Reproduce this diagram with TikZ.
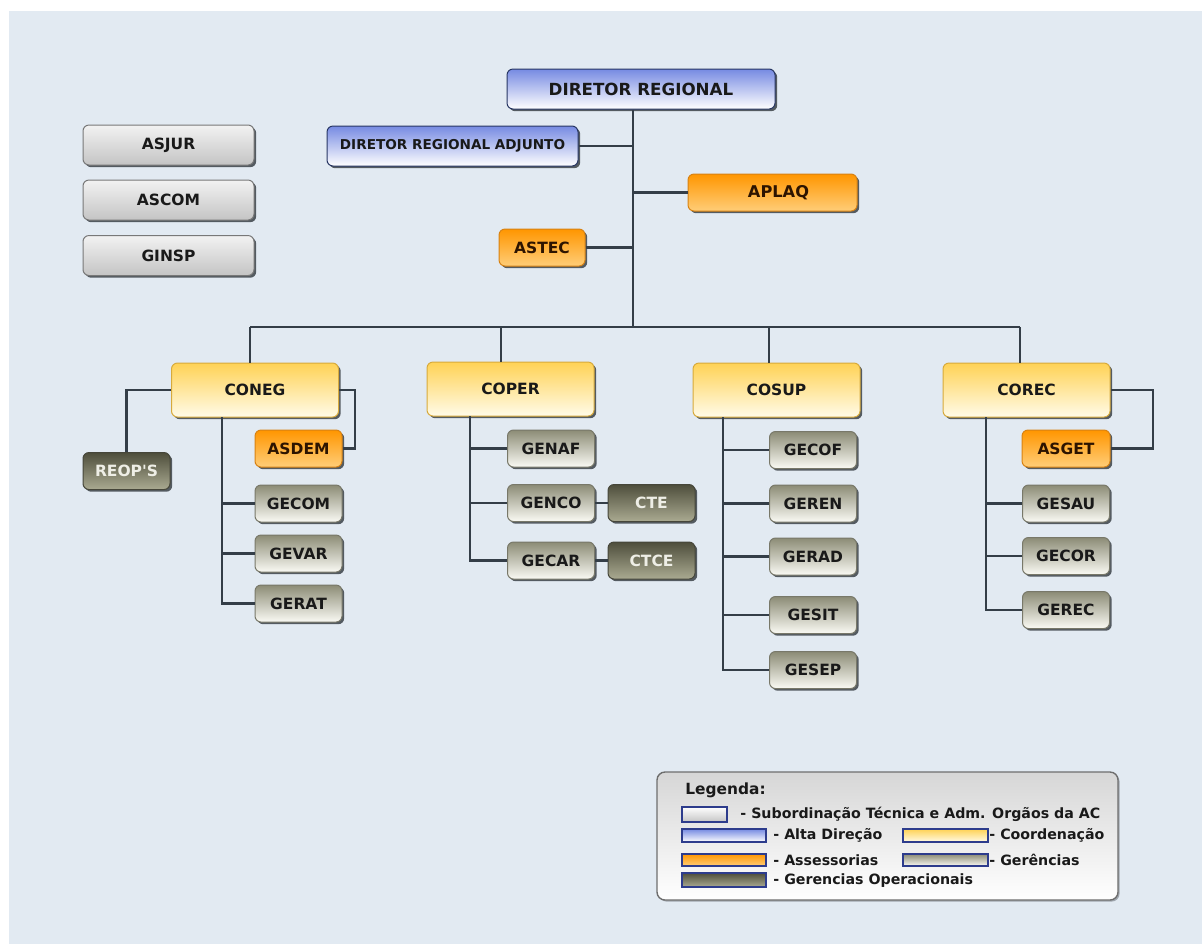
\documentclass[tikz,border=0pt]{standalone}
\usepackage{fontspec}
\setmainfont{DejaVu Sans}
\usetikzlibrary{shadows}
\definecolor{bg}{RGB}{226,234,242}
\definecolor{linec}{RGB}{52,62,72}
\definecolor{txt}{RGB}{25,25,25}
\definecolor{shadowc}{RGB}{60,66,72}
\definecolor{blueTop}{RGB}{118,138,226}
\definecolor{blueBorder}{RGB}{40,55,100}
\definecolor{yelTop}{RGB}{255,210,85}
\definecolor{yelBot}{RGB}{255,251,232}
\definecolor{yelBorder}{RGB}{215,170,60}
\definecolor{orTop}{RGB}{255,150,0}
\definecolor{orBot}{RGB}{255,205,120}
\definecolor{orBorder}{RGB}{215,130,20}
\definecolor{gerTop}{RGB}{140,140,118}
\definecolor{gerBot}{RGB}{250,250,244}
\definecolor{gerBorder}{RGB}{120,120,105}
\definecolor{opTop}{RGB}{78,78,60}
\definecolor{opBot}{RGB}{170,170,145}
\definecolor{opBorder}{RGB}{70,70,58}
\definecolor{grTop}{RGB}{242,242,242}
\definecolor{grBot}{RGB}{196,196,196}
\definecolor{grBorder}{RGB}{120,120,120}
\definecolor{swBorder}{RGB}{45,60,140}
\tikzset{
  box/.style={rounded corners=3pt, inner sep=0pt, text=txt,
    font=\bfseries\fontsize{7.75}{9}\selectfont, line width=0.5pt,
    drop shadow={shadow xshift=1.1pt, shadow yshift=-1.1pt, fill=shadowc, opacity=0.85}},
  bluebox/.style={box, top color=blueTop, bottom color=white, draw=blueBorder},
  yelbox/.style={box, top color=yelTop, bottom color=yelBot, draw=yelBorder, minimum width=83.5pt, minimum height=27pt},
  orbox/.style={box, top color=orTop, bottom color=orBot, draw=orBorder, text={rgb,255:red,45;green,20;blue,0}},
  gerbox/.style={box, top color=gerTop, bottom color=gerBot, draw=gerBorder, minimum width=43.5pt, minimum height=18.5pt},
  opbox/.style={box, top color=opTop, bottom color=opBot, draw=opBorder, text={rgb,255:red,238;green,238;blue,230}, minimum width=43.5pt, minimum height=18.5pt},
  graybox/.style={box, top color=grTop, bottom color=grBot, draw=grBorder, minimum width=85.5pt, minimum height=20pt},
  conn/.style={draw=linec, line width=1.25pt},
  swatch/.style={draw=swBorder, line width=0.6pt, inner sep=0pt},
  legtext/.style={anchor=west, inner sep=0pt, text=txt, font=\bfseries\fontsize{7.1}{8.5}\selectfont},
}
\begin{document}
\begin{tikzpicture}[x=0.5pt,y=-0.5pt]
\useasboundingbox (0,0) rectangle (1202,944);
\fill[white] (0,0) rectangle (1202,944);
\fill[bg] (9,11) rectangle (1202,944);

% top management
\node[bluebox, minimum width=134pt, minimum height=20pt, font=\bfseries\fontsize{8.35}{10}\selectfont] (dr) at (641,89) {DIRETOR REGIONAL};
\node[bluebox, minimum width=125.5pt, minimum height=20pt, font=\bfseries\fontsize{6.8}{8}\selectfont] (dra) at (452.5,146) {DIRETOR REGIONAL ADJUNTO};
\node[orbox, minimum width=84.5pt, minimum height=18.5pt, font=\bfseries\fontsize{8.1}{10}\selectfont] (aplaq) at (772.5,192.5) {\hspace*{6pt}APLAQ};
\node[orbox, minimum width=43pt, minimum height=18.5pt] (astec) at (542,247.5) {ASTEC};

% left gray boxes
\node[graybox] (asjur) at (168.5,145) {ASJUR};
\node[graybox] (ascom) at (168.5,200) {ASCOM};
\node[graybox] (ginsp) at (168.5,255.5) {GINSP};

% coordinations
\node[yelbox] (coneg) at (255,390) {CONEG};
\node[yelbox] (coper) at (510.5,389) {COPER};
\node[yelbox] (cosup) at (776.5,390) {COSUP};
\node[yelbox] (corec) at (1026.5,390) {COREC};

% CONEG group
\node[opbox] (reops) at (126.5,471) {REOP\textquotesingle S};
\node[orbox, minimum width=43.5pt, minimum height=18.5pt] (asdem) at (298.5,448.5) {ASDEM};
\node[gerbox] (gecom) at (298.5,503.5) {GECOM};
\node[gerbox] (gevar) at (298.5,553.5) {GEVAR};
\node[gerbox] (gerat) at (298.5,603.5) {GERAT};

% COPER group
\node[gerbox] (genaf) at (551,448.5) {GENAF};
\node[gerbox] (genco) at (551,503) {GENCO};
\node[gerbox] (gecar) at (551,560.5) {GECAR};
\node[opbox] (cte) at (651.5,503) {CTE};
\node[opbox] (ctce) at (651.5,560.5) {CTCE};

% COSUP group
\node[gerbox] (gecof) at (813,450) {GECOF};
\node[gerbox] (geren) at (813,503.5) {GEREN};
\node[gerbox] (gerad) at (813,556.5) {GERAD};
\node[gerbox] (gesit) at (813,615) {GESIT};
\node[gerbox] (gesep) at (813,670) {GESEP};

% COREC group
\node[orbox, minimum width=44pt, minimum height=18.5pt] (asget) at (1066,448.5) {ASGET};
\node[gerbox] (gesau) at (1066,503.5) {GESAU};
\node[gerbox] (gecor) at (1066,556) {GECOR};
\node[gerbox] (gerec) at (1066,610) {GEREC};

% main trunk
\coordinate (trunk) at (633,327);
\draw[conn] (dr.south -| trunk) -- (trunk);
\draw[conn] (dra.east) -- (dra.east -| trunk);
\draw[conn] (aplaq.west) -- (aplaq.west -| trunk);
\draw[conn] (astec.east) -- (astec.east -| trunk);

% bus
\coordinate (b1) at (250,327);
\coordinate (b2) at (501,327);
\coordinate (b3) at (769,327);
\coordinate (b4) at (1020,327);
\draw[conn] (b1) -- (b4);
\draw[conn] (b1) -- (b1 |- coneg.north);
\draw[conn] (b2) -- (b2 |- coper.north);
\draw[conn] (b3) -- (b3 |- cosup.north);
\draw[conn] (b4) -- (b4 |- corec.north);

% CONEG connectors
\coordinate (t1) at (222,417);
\draw[conn] (t1) |- (gerat.west);
\draw[conn] (t1 |- gecom.west) -- (gecom.west);
\draw[conn] (t1 |- gevar.west) -- (gevar.west);
\draw[conn] (coneg.west) -| (reops.north);
\coordinate (r1) at (355,390);
\draw[conn] (coneg.east) -- (coneg.east -| r1) |- (asdem.east);

% COPER connectors
\coordinate (t2) at (470,416);
\draw[conn] (t2) |- (gecar.west);
\draw[conn] (t2 |- genaf.west) -- (genaf.west);
\draw[conn] (t2 |- genco.west) -- (genco.west);
\draw[conn] (genco.east) -- (cte.west);
\draw[conn] (gecar.east) -- (ctce.west);

% COSUP connectors
\coordinate (t3) at (723,417);
\draw[conn] (t3) |- (gesep.west);
\draw[conn] (t3 |- gecof.west) -- (gecof.west);
\draw[conn] (t3 |- geren.west) -- (geren.west);
\draw[conn] (t3 |- gerad.west) -- (gerad.west);
\draw[conn] (t3 |- gesit.west) -- (gesit.west);

% COREC connectors
\coordinate (t4) at (986,417);
\draw[conn] (t4) |- (gerec.west);
\draw[conn] (t4 |- gesau.west) -- (gesau.west);
\draw[conn] (t4 |- gecor.west) -- (gecor.west);
\coordinate (r4) at (1153,390);
\draw[conn] (corec.east) -- (corec.east -| r4) |- (asget.east);

% legend
\node[rounded corners=4pt, draw={rgb,255:red,110;green,110;blue,110}, line width=0.7pt,
      top color={rgb,255:red,214;green,214;blue,214}, bottom color=white,
      minimum width=230.5pt, minimum height=64pt, inner sep=0pt,
      drop shadow={shadow xshift=0.8pt, shadow yshift=-0.8pt, fill=shadowc, opacity=0.4}] (leg) at (887.5,836) {};
\node[anchor=west, inner sep=0pt, text=txt, font=\bfseries\fontsize{7.7}{9}\selectfont] (legt) at (685,790) {Legenda:};
\node[swatch, top color=white, bottom color=grBot, minimum width=22.5pt, minimum height=7.5pt] (s1) at (704.5,814.5) {};
\node[swatch, top color=blueTop, bottom color=white, minimum width=42pt, minimum height=6.5pt] (s2) at (724,835.5) {};
\node[swatch, top color=orTop, bottom color=orBot, minimum width=42pt, minimum height=6pt] (s3) at (724,860) {};
\node[swatch, top color=opTop, bottom color=opBot, minimum width=42pt, minimum height=7pt] (s4) at (724,880) {};
\node[swatch, top color=yelTop, bottom color=yelBot, minimum width=42.5pt, minimum height=6.5pt] (s5) at (945.5,835.5) {};
\node[swatch, top color=gerTop, bottom color=gerBot, minimum width=42.5pt, minimum height=6pt] (s6) at (945.5,860) {};
\node[legtext] (l1) at (740,814) {- Subordinação Técnica e Adm. Orgãos da AC};
\node[legtext] (l2) at (773,835.5) {- Alta Direção};
\node[legtext] (l3) at (773,860) {- Assessorias};
\node[legtext] (l4) at (773,880.5) {- Gerencias Operacionais};
\node[legtext] (l5) at (989,835.5) {- Coordenação};
\node[legtext] (l6) at (989,860) {- Gerências};
\end{tikzpicture}
\end{document}
